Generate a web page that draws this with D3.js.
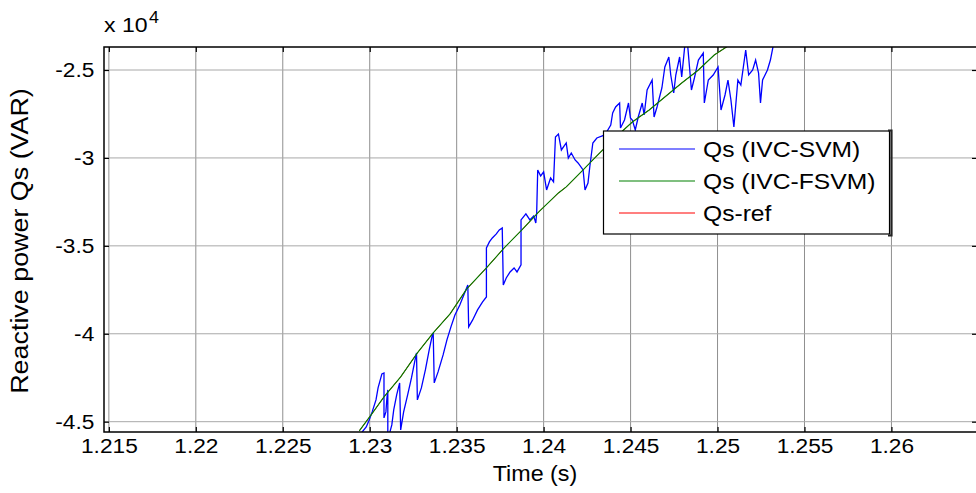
<!DOCTYPE html>
<html>
<head>
<meta charset="utf-8">
<script src="https://cdn.jsdelivr.net/npm/d3@7"></script>
<style>
  body { margin: 0; background: #fff; }
  svg text { font-family: "Liberation Sans", Arial, Helvetica, sans-serif; fill: #000; }
</style>
</head>
<body>
<svg id="chart" width="976" height="493"></svg>
<script>
// Qs (IVC-SVM) : time (s) and reactive power (VAR)
var svmTime = [1.22946,1.22957,1.22980,1.22997,1.23014,1.23036,1.23048,1.23070,1.23082,1.23082,
  1.23093,1.23099,1.23104,1.23104,1.23127,1.23138,1.23155,1.23172,1.23178,1.23195,
  1.23218,1.23240,1.23263,1.23269,1.23274,1.23297,1.23320,1.23342,1.23359,1.23365,
  1.23371,1.23393,1.23422,1.23444,1.23467,1.23490,1.23518,1.23541,1.23564,1.23569,
  1.23592,1.23620,1.23649,1.23671,1.23671,1.23688,1.23705,1.23728,1.23745,1.23762,
  1.23768,1.23785,1.23807,1.23830,1.23847,1.23870,1.23870,1.23898,1.23921,1.23943,
  1.23955,1.23960,1.23966,1.23983,1.24000,1.24017,1.24040,1.24057,1.24068,1.24085,
  1.24102,1.24130,1.24142,1.24159,1.24181,1.24198,1.24227,1.24238,1.24255,1.24266,
  1.24283,1.24306,1.24352,1.24386,1.24397,1.24414,1.24437,1.24442,1.24465,1.24488,
  1.24499,1.24510,1.24527,1.24544,1.24567,1.24578,1.24595,1.24624,1.24635,1.24652,
  1.24680,1.24697,1.24720,1.24731,1.24748,1.24760,1.24782,1.24794,1.24811,1.24828,
  1.24850,1.24867,1.24890,1.24918,1.24924,1.24947,1.24975,1.25003,1.25020,1.25043,
  1.25060,1.25077,1.25094,1.25117,1.25134,1.25162,1.25179,1.25202,1.25219,1.25236,
  1.25247,1.25259,1.25287,1.25304,1.25321,1.25332,1.25474,1.25485,1.25502,1.25514];
var svmQ = [-46035,-45580,-45296,-44898,-44443,-43761,-43078,-42282,-42226,-44784,
  -44443,-43647,-43192,-46035,-45182,-44329,-43476,-42794,-45466,-44443,
  -43476,-42510,-41373,-41089,-43761,-43078,-42055,-40918,-40122,-39952,
  -42794,-42169,-41202,-40350,-39610,-38928,-38360,-37791,-37223,-39610,
  -39213,-38644,-38189,-37905,-35119,-34778,-34551,-34323,-34096,-33982,
  -37223,-36825,-36484,-36256,-36484,-36086,-33528,-33186,-33528,-33300,
  -33698,-33130,-30685,-31026,-30799,-31822,-31140,-31367,-28809,-28638,
  -29548,-29150,-30003,-29719,-30117,-30287,-30685,-31822,-31424,-30458,
  -29150,-28866,-28695,-28127,-27445,-27103,-26876,-28297,-27843,-26876,
  -27729,-27843,-28411,-27672,-26876,-27558,-26137,-25569,-27672,-27103,
  -26023,-24829,-24261,-25284,-26308,-25284,-24261,-25398,-23692,-23579,
  -26137,-25455,-24432,-24034,-26876,-25569,-25284,-24829,-27274,-26421,
  -25569,-26706,-28240,-25569,-25853,-23863,-25284,-25000,-24432,-25171,
  -26876,-25569,-25000,-24432,-23579,-22726,-22726,-23636,-23636,-22726];

// Qs (IVC-FSVM) - the reference sits right under it
var fsvmTime = [1.22940,1.23008,1.23082,1.23178,1.23274,1.23365,1.23462,1.23558,1.23671,1.23773,
  1.23875,1.23972,1.24085,1.24130,1.24227,1.24300,1.24397,1.24510,1.24607,1.24697,
  1.24794,1.24890,1.24981,1.25060,1.25106];
var fsvmQ = [-45523,-44613,-43590,-42453,-41089,-39952,-38871,-37450,-36256,-35119,
  -34096,-33073,-31993,-31651,-30685,-29946,-28980,-27956,-27274,-26535,
  -25739,-25000,-24147,-23636,-23294];

var xTicks = [1.215, 1.22, 1.225, 1.23, 1.235, 1.24, 1.245, 1.25, 1.255, 1.26];
var xTickLabels = ["1.215", "1.22", "1.225", "1.23", "1.235", "1.24", "1.245", "1.25", "1.255", "1.26"];
var yTicks = [-45000, -40000, -35000, -30000, -25000];
var yTickLabels = ["-4.5", "-4", "-3.5", "-3", "-2.5"];

var legendLabels = ["Qs (IVC-SVM)", "Qs (IVC-FSVM)", "Qs-ref"];
var legendColors = ["#0000ff", "#008000", "#ff0000"];

// plot box
var boxLeft = 104, boxRight = 977, boxTop = 47, boxBottom = 432;

// the picture's text is drawn a bit wide, so texts get a scale along the line
function wide(px, py, k) {
  return "translate(" + px + "," + py + ") scale(" + k + ",1)";
}

var svg = d3.select("#chart");

var x = d3.scaleLinear().domain([1.21472, 1.26492]).range([boxLeft, boxRight]);
var y = d3.scaleLinear().domain([-45586, -23692]).range([boxBottom, boxTop]);

svg.append("clipPath").attr("id", "plotclip")
  .append("rect").attr("x", boxLeft).attr("y", boxTop)
  .attr("width", boxRight - boxLeft).attr("height", boxBottom - boxTop);

// grid
svg.append("g").selectAll("line").data(xTicks).enter().append("line")
  .attr("x1", function(d) { return x(d); }).attr("x2", function(d) { return x(d); })
  .attr("y1", boxTop).attr("y2", boxBottom)
  .attr("stroke", "#8f8f8f").attr("stroke-width", 1);
svg.append("g").selectAll("line").data(yTicks).enter().append("line")
  .attr("x1", boxLeft).attr("x2", boxRight)
  .attr("y1", function(d) { return y(d); }).attr("y2", function(d) { return y(d); })
  .attr("stroke", "#a8a8a8").attr("stroke-width", 1);

// axes, ticks pointing inward
svg.append("g").attr("transform", "translate(0," + boxBottom + ")")
  .call(d3.axisBottom(x).tickValues(xTicks).tickSize(-5).tickPadding(6)
    .tickFormat(function(d, i) { return xTickLabels[i]; }));
svg.append("g").attr("transform", "translate(0," + boxTop + ")")
  .call(d3.axisTop(x).tickValues(xTicks).tickSize(-5).tickFormat(""));
svg.append("g").attr("transform", "translate(" + boxLeft + ",0)")
  .call(d3.axisLeft(y).tickValues(yTicks).tickSize(-5).tickPadding(9)
    .tickFormat(function(d, i) { return yTickLabels[i]; }));
svg.append("g").attr("transform", "translate(" + boxRight + ",0)")
  .call(d3.axisRight(y).tickValues(yTicks).tickSize(-5).tickFormat(""));

svg.selectAll(".domain").remove();
svg.selectAll(".tick line").attr("stroke", "#000").attr("stroke-width", 1.2);
svg.selectAll(".tick text").style("font-size", "21px")
  .attr("transform", "scale(1.08,1)");

// lines
var plot = svg.append("g").attr("clip-path", "url(#plotclip)");
var line = d3.line()
  .x(function(d) { return x(d[0]); })
  .y(function(d) { return y(d[1]); });

var svmPts = d3.zip(svmTime, svmQ);
var fsvmPts = d3.zip(fsvmTime, fsvmQ);

plot.append("path").datum(fsvmPts).attr("d", line)
  .attr("fill", "none").attr("stroke", legendColors[2]).attr("stroke-width", 1);
plot.append("path").datum(svmPts).attr("d", line)
  .attr("fill", "none").attr("stroke", legendColors[0]).attr("stroke-width", 1.3);
plot.append("path").datum(fsvmPts).attr("d", line)
  .attr("fill", "none").attr("stroke", legendColors[1]).attr("stroke-width", 1.1);

// box
svg.append("rect").attr("x", boxLeft).attr("y", boxTop)
  .attr("width", boxRight - boxLeft).attr("height", boxBottom - boxTop)
  .attr("fill", "none").attr("stroke", "#000").attr("stroke-width", 1.5);

// exponent
svg.append("text").attr("transform", wide(104, 32, 1.1))
  .style("font-size", "21px").text("x 10");
svg.append("text").attr("transform", wide(149, 23, 1.05))
  .style("font-size", "17px").text("4");

// axis titles
svg.append("text").attr("transform", wide(535, 481, 1.06))
  .attr("text-anchor", "middle").style("font-size", "22px").text("Time (s)");
svg.append("text").attr("transform", "translate(28,241) rotate(-90) scale(1.12,1)")
  .attr("text-anchor", "middle").style("font-size", "24px").text("Reactive power Qs (VAR)");

// legend
var legend = svg.append("g");
legend.append("rect").attr("x", 603.5).attr("y", 131)
  .attr("width", 286).attr("height", 103)
  .attr("fill", "#fff").attr("stroke", "#000").attr("stroke-width", 1.2);
legend.append("path").attr("d", "M888,130.5H891.5V235.5H888")
  .attr("fill", "none").attr("stroke", "#222").attr("stroke-width", 2.2);

var item = legend.selectAll(".item").data(legendLabels).enter().append("g")
  .attr("class", "item")
  .attr("transform", function(d, i) { return "translate(0," + (149 + i * 32) + ")"; });
item.append("line").attr("x1", 619).attr("x2", 695).attr("y1", 0).attr("y2", 0)
  .attr("stroke", function(d, i) { return legendColors[i]; }).attr("stroke-width", 1.2);
item.append("text").attr("transform", wide(703, 8, 1.12))
  .style("font-size", "22px").text(function(d) { return d; });
</script>
</body>
</html>
